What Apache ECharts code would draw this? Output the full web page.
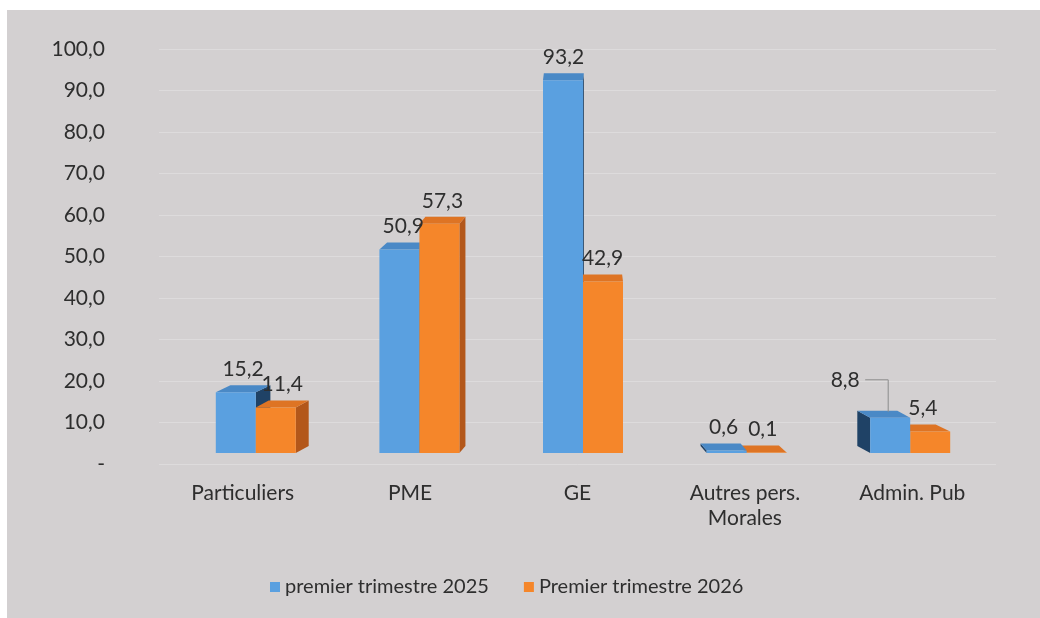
<!DOCTYPE html>
<html>
<head>
<meta charset="utf-8">
<script src="https://cdn.jsdelivr.net/npm/echarts@6/dist/echarts.min.js"></script>
<style>
  html, body { margin: 0; padding: 0; background: #fff; }
  #panel { position: absolute; left: 7px; top: 10px; right: 0; bottom: 0; background: #d3d0d1; }
  #chart { position: absolute; left: 0; top: 0; width: 1040px; height: 618px; }
</style>
</head>
<body>
<div id="panel"></div>
<div id="chart"></div>
<script>
// données
const categories = ['Particuliers', 'PME', 'GE', 'Autres pers.\nMorales', 'Admin. Pub'];
const seriesNames = ['premier trimestre 2025', 'Premier trimestre 2026'];
const trim2025 = [15.2, 50.9, 93.2, 0.6, 8.8];
const trim2026 = [11.4, 57.3, 42.9, 0.1, 5.4];
const yTicks = { min: 0, max: 100, interval: 10 };

const FONT = 'Lato';
const TXT = '#2e2e2e';
const BAR_W = 40;
const DEPTH_K = 0.042; // effet perspective
const DEPTH_Y = -7;

const palette = [
  { front: '#5aa0e0', top: '#4a89c6', side: '#1f4266' },
  { front: '#f5862a', top: '#de7424', side: '#b3571a' },
];

const fmt = (v) => v.toFixed(1).replace('.', ',');

// décalage spécial de l'étiquette "8,8" (avec trait de rappel)
const leaderShift = [[null, null, null, null, [-45, -38]], [null, null, null, null, null]];

const makeRender = (s) => (params, api) => {
  const i = api.value(0);
  const v = api.value(1);
  const base = api.coord([i, 0]);
  const top = api.coord([i, v]);
  const cs = params.coordSys;
  const mid = cs.x + cs.width / 2;
  const cx = base[0] + (s === 0 ? -BAR_W / 2 : BAR_W / 2);
  const x0 = cx - BAR_W / 2;
  const x1 = cx + BAR_W / 2;
  const yT = top[1];
  const yB = base[1];
  const dx = (mid - cx) * DEPTH_K;
  const dy = DEPTH_Y;
  const c = palette[s];
  // qui passe devant : la barre du côté visible
  const z = dx > 0 ? (s === 0 ? 0 : 10) : (s === 0 ? 10 : 0);

  const sx = dx > 0 ? x1 : x0;
  const children = [
    {
      type: 'polygon', z2: z,
      shape: { points: [[sx, yT], [sx + dx, yT + dy], [sx + dx, yB + dy], [sx, yB]] },
      style: { fill: c.side },
    },
    {
      type: 'polygon', z2: z + 1,
      shape: { points: [[x0, yT], [x1, yT], [x1 + dx, yT + dy], [x0 + dx, yT + dy]] },
      style: { fill: c.top },
    },
    {
      type: 'rect', z2: z + 2,
      shape: { x: x0, y: yT, width: BAR_W, height: yB - yT },
      style: { fill: c.front },
    },
  ];

  const sh = leaderShift[s][i];
  const lx = sh ? cx + sh[0] : cx + dx / 2;
  const ly = sh ? yT + sh[1] : yT - 23;
  if (sh) {
    children.push({
      type: 'polyline', z2: 100,
      shape: { points: [[lx + 20, ly], [cx - 2, ly], [cx - 2, yT + dy + 1]] },
      style: { stroke: '#8c8c8c', lineWidth: 1, fill: null },
    });
  }
  children.push({
    type: 'text', z2: 101,
    style: {
      x: lx, y: ly, text: fmt(v), fill: TXT,
      font: `21px ${FONT}`, align: 'center', verticalAlign: 'middle',
    },
  });
  return { type: 'group', children };
};

const chart = echarts.init(document.getElementById('chart'));

const option = {
  animation: false,
  textStyle: { fontFamily: FONT },
  grid: [
    // plan avant : axes et étiquettes
    { left: 159, right: 44, top: 49, bottom: 154 },
    // plan arrière : barres 3D
    { left: 174, right: 48, top: 53, bottom: 165 },
  ],
  xAxis: [
    {
      type: 'category', gridIndex: 0, data: categories,
      axisLine: { show: false }, axisTick: { show: false },
      axisLabel: { color: TXT, fontSize: 21, lineHeight: 25, margin: 17, fontFamily: FONT },
    },
    {
      type: 'category', gridIndex: 1, data: categories, show: false,
    },
  ],
  yAxis: [
    {
      type: 'value', gridIndex: 0, min: yTicks.min, max: yTicks.max, interval: yTicks.interval,
      axisLine: { show: false }, axisTick: { show: false },
      axisLabel: {
        color: TXT, fontSize: 21, margin: 54, fontFamily: FONT,
        formatter: (v) => (v === 0 ? '-' : fmt(v)),
      },
      splitLine: { lineStyle: { color: '#dddbdc', width: 1 } },
    },
    {
      type: 'value', gridIndex: 1, min: yTicks.min, max: yTicks.max, show: false,
      splitLine: { show: false },
    },
  ],
  legend: {
    left: 265, top: 572,
    icon: 'rect', itemWidth: 10, itemHeight: 10, itemGap: 35,
    textStyle: { color: TXT, fontSize: 20, fontFamily: FONT },
    data: seriesNames,
  },
  series: [trim2025, trim2026].map((vals, s) => ({
    type: 'custom',
    name: seriesNames[s],
    xAxisIndex: 1,
    yAxisIndex: 1,
    itemStyle: { color: palette[s].front },
    encode: { x: 0, y: 1 },
    data: vals.map((v, i) => [i, v]),
    renderItem: makeRender(s),
  })),
};

chart.setOption(option);
</script>
</body>
</html>
